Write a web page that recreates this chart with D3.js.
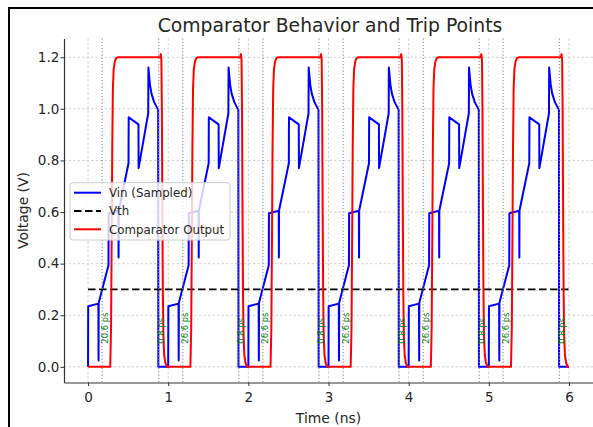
<!DOCTYPE html>
<html>
<head>
<meta charset="utf-8">
<script src="https://cdn.jsdelivr.net/npm/d3@7"></script>
<style>
  html, body { margin: 0; padding: 0; background: #fff; }
  svg { display: block; font-family: 'DejaVu Sans', sans-serif; }
</style>
</head>
<body>
<div id="chart-area"></div>
<script>
// DATA
// =================

// Vin (Sampled), time in ns
var vinT = [
    0.000, 0.002, 0.129, 0.131, 0.133, 0.255, 0.257, 0.379, 0.381, 0.383, 0.505, 0.507, 0.629, 0.631, 0.751, 0.753, 0.772, 0.792, 0.825, 0.875, 0.877,
    1.000, 1.002, 1.129, 1.131, 1.133, 1.255, 1.257, 1.379, 1.381, 1.383, 1.505, 1.507, 1.629, 1.631, 1.751, 1.753, 1.772, 1.792, 1.825, 1.875, 1.877,
    2.000, 2.002, 2.129, 2.131, 2.133, 2.255, 2.257, 2.379, 2.381, 2.383, 2.505, 2.507, 2.629, 2.631, 2.751, 2.753, 2.772, 2.792, 2.825, 2.875, 2.877,
    3.000, 3.002, 3.129, 3.131, 3.133, 3.255, 3.257, 3.379, 3.381, 3.383, 3.505, 3.507, 3.629, 3.631, 3.751, 3.753, 3.772, 3.792, 3.825, 3.875, 3.877,
    4.000, 4.002, 4.129, 4.131, 4.133, 4.255, 4.257, 4.379, 4.381, 4.383, 4.505, 4.507, 4.629, 4.631, 4.751, 4.753, 4.772, 4.792, 4.825, 4.875, 4.877,
    5.000, 5.002, 5.129, 5.131, 5.133, 5.255, 5.257, 5.379, 5.381, 5.383, 5.505, 5.507, 5.629, 5.631, 5.751, 5.753, 5.772, 5.792, 5.825, 5.875, 5.877,
    6.000
];
var vinV = [
    0.000, 0.235, 0.245, 0.025, 0.248, 0.394, 0.595, 0.605, 0.424, 0.606, 0.789, 0.967, 0.940, 0.770, 0.983, 1.160, 1.095, 1.058, 1.026, 0.996, 0.000,
    0.000, 0.235, 0.245, 0.025, 0.248, 0.394, 0.595, 0.605, 0.424, 0.606, 0.789, 0.967, 0.940, 0.770, 0.983, 1.160, 1.095, 1.058, 1.026, 0.996, 0.000,
    0.000, 0.235, 0.245, 0.025, 0.248, 0.394, 0.595, 0.605, 0.424, 0.606, 0.789, 0.967, 0.940, 0.770, 0.983, 1.160, 1.095, 1.058, 1.026, 0.996, 0.000,
    0.000, 0.235, 0.245, 0.025, 0.248, 0.394, 0.595, 0.605, 0.424, 0.606, 0.789, 0.967, 0.940, 0.770, 0.983, 1.160, 1.095, 1.058, 1.026, 0.996, 0.000,
    0.000, 0.235, 0.245, 0.025, 0.248, 0.394, 0.595, 0.605, 0.424, 0.606, 0.789, 0.967, 0.940, 0.770, 0.983, 1.160, 1.095, 1.058, 1.026, 0.996, 0.000,
    0.000, 0.235, 0.245, 0.025, 0.248, 0.394, 0.595, 0.605, 0.424, 0.606, 0.789, 0.967, 0.940, 0.770, 0.983, 1.160, 1.095, 1.058, 1.026, 0.996, 0.000,
    0.000
];

// Comparator Output
var outT = [
    0.000,
    0.277, 0.287, 0.295, 0.302, 0.310, 0.320, 0.335, 0.352, 0.375, 0.900, 0.907, 0.915, 0.921, 0.927, 0.933, 0.940, 0.950, 0.965, 0.985,
    1.277, 1.287, 1.295, 1.302, 1.310, 1.320, 1.335, 1.352, 1.375, 1.900, 1.907, 1.915, 1.921, 1.927, 1.933, 1.940, 1.950, 1.965, 1.985,
    2.277, 2.287, 2.295, 2.302, 2.310, 2.320, 2.335, 2.352, 2.375, 2.900, 2.907, 2.915, 2.921, 2.927, 2.933, 2.940, 2.950, 2.965, 2.985,
    3.277, 3.287, 3.295, 3.302, 3.310, 3.320, 3.335, 3.352, 3.375, 3.900, 3.907, 3.915, 3.921, 3.927, 3.933, 3.940, 3.950, 3.965, 3.985,
    4.277, 4.287, 4.295, 4.302, 4.310, 4.320, 4.335, 4.352, 4.375, 4.900, 4.907, 4.915, 4.921, 4.927, 4.933, 4.940, 4.950, 4.965, 4.985,
    5.277, 5.287, 5.295, 5.302, 5.310, 5.320, 5.335, 5.352, 5.375, 5.900, 5.907, 5.915, 5.921, 5.927, 5.933, 5.940, 5.950, 5.965, 5.985,
    6.000
];
var outV = [
    0.000,
    0.000, 0.150, 0.500, 0.850, 1.080, 1.155, 1.185, 1.197, 1.200, 1.200, 1.212, 1.190, 1.000, 0.620, 0.300, 0.120, 0.045, 0.015, 0.000,
    0.000, 0.150, 0.500, 0.850, 1.080, 1.155, 1.185, 1.197, 1.200, 1.200, 1.212, 1.190, 1.000, 0.620, 0.300, 0.120, 0.045, 0.015, 0.000,
    0.000, 0.150, 0.500, 0.850, 1.080, 1.155, 1.185, 1.197, 1.200, 1.200, 1.212, 1.190, 1.000, 0.620, 0.300, 0.120, 0.045, 0.015, 0.000,
    0.000, 0.150, 0.500, 0.850, 1.080, 1.155, 1.185, 1.197, 1.200, 1.200, 1.212, 1.190, 1.000, 0.620, 0.300, 0.120, 0.045, 0.015, 0.000,
    0.000, 0.150, 0.500, 0.850, 1.080, 1.155, 1.185, 1.197, 1.200, 1.200, 1.212, 1.190, 1.000, 0.620, 0.300, 0.120, 0.045, 0.015, 0.000,
    0.000, 0.150, 0.500, 0.850, 1.080, 1.155, 1.185, 1.197, 1.200, 1.200, 1.212, 1.190, 1.000, 0.620, 0.300, 0.120, 0.045, 0.015, 0.000,
    0.000
];

// threshold
var vth = 0.3;
var vthSpan = [0, 6];

// trip points (ns) and delay labels
var tripRise = [0.176, 1.182, 2.182, 3.182, 4.182, 5.178];
var tripFall = [0.882, 1.882, 2.881, 3.880, 4.880, 5.880];
var riseLabels = ['20.6 ps', '26.6 ps', '26.6 ps', '26.6 ps', '26.6 ps', '26.6 ps'];
var fallLabels = ['0.8 ps', '0.8 ps', '0.8 ps', '0.8 ps', '0.8 ps', '0.8 ps'];

// ticks
var xTicks = [0, 1, 2, 3, 4, 5, 6];
var yTicks = [0.0, 0.2, 0.4, 0.6, 0.8, 1.0, 1.2];

var legendNames = ['Vin (Sampled)', 'Vth', 'Comparator Output'];

// CANVAS + MARGINS
// =================
var W = 593, H = 427;
var margin = { left: 64, right: 0, top: 38.5, bottom: 44.5 };
var width = W - margin.left - margin.right;
var height = H - margin.top - margin.bottom;

var svg = d3.select('#chart-area')
    .append('svg')
        .attr('width', W)
        .attr('height', H);

// screenshot frame (top + left edge)
svg.append('line').attr('x1', 8).attr('x2', W).attr('y1', 8).attr('y2', 8)
    .attr('stroke', '#000').attr('stroke-width', 2);
svg.append('line').attr('x1', 9).attr('x2', 9).attr('y1', 7).attr('y2', H)
    .attr('stroke', '#000').attr('stroke-width', 2);

var g = svg.append('g')
    .attr('transform', 'translate(' + margin.left + ',' + margin.top + ')');

// SCALES
var x = d3.scaleLinear().domain([-0.3, 6.3]).range([0, width]);
var y = d3.scaleLinear().domain([-0.0606, 1.2726]).range([height, 0]);

// GRID
g.selectAll('.xgrid').data(xTicks).enter().append('line')
    .attr('class', 'xgrid')
    .attr('x1', d => x(d)).attr('x2', d => x(d))
    .attr('y1', 0).attr('y2', height)
    .attr('stroke', '#c8c8c8').attr('stroke-width', 0.8)
    .attr('stroke-dasharray', '2.5,2');
g.selectAll('.ygrid').data(yTicks).enter().append('line')
    .attr('class', 'ygrid')
    .attr('x1', 0).attr('x2', width)
    .attr('y1', d => y(d)).attr('y2', d => y(d))
    .attr('stroke', '#c8c8c8').attr('stroke-width', 0.8)
    .attr('stroke-dasharray', '2.5,2');

// LINES
var line = d3.line()
    .x(d => x(d[0]))
    .y(d => y(d[1]));

var vinData = vinT.map((t, i) => [t, vinV[i]]);
var outData = outT.map((t, i) => [t, outV[i]]);

g.append('path')
    .datum(vinData)
    .attr('d', line)
    .attr('fill', 'none')
    .attr('stroke', '#0000ff')
    .attr('stroke-width', 2)
    .attr('stroke-linejoin', 'round');

g.append('path')
    .datum(vthSpan.map(t => [t, vth]))
    .attr('d', line)
    .attr('fill', 'none')
    .attr('stroke', '#000')
    .attr('stroke-width', 1.8)
    .attr('stroke-dasharray', '7.5,3.5');

g.append('path')
    .datum(outData)
    .attr('d', line)
    .attr('fill', 'none')
    .attr('stroke', '#ff0000')
    .attr('stroke-width', 2)
    .attr('stroke-linejoin', 'round');

// TRIP LINES + LABELS
var trips = tripRise.map((t, i) => ({ t: t, label: riseLabels[i] }))
    .concat(tripFall.map((t, i) => ({ t: t, label: fallLabels[i] })));

g.selectAll('.trip').data(trips).enter().append('line')
    .attr('class', 'trip')
    .attr('x1', d => x(d.t)).attr('x2', d => x(d.t))
    .attr('y1', 0).attr('y2', height)
    .attr('stroke', '#8c8c8c').attr('stroke-width', 1.1)
    .attr('stroke-dasharray', '1.2,2');

g.selectAll('.trip-label').data(trips).enter().append('text')
    .attr('class', 'trip-label')
    .attr('transform', d => 'translate(' + (x(d.t) + 5.5) + ',' + y(0.09) + ') rotate(-90)')
    .attr('font-size', '8.4px')
    .attr('fill', '#008000')
    .text(d => d.label);

// AXES
var xAxisCall = d3.axisBottom(x)
    .tickValues(xTicks)
    .tickSize(3.5)
    .tickSizeOuter(0)
    .tickPadding(6)
    .tickFormat(d3.format('d'));
var xAxis = g.append('g')
    .attr('transform', 'translate(0,' + height + ')')
    .call(xAxisCall);

var yAxisCall = d3.axisLeft(y)
    .tickValues(yTicks)
    .tickSize(3.5)
    .tickSizeOuter(0)
    .tickPadding(1.2)
    .tickFormat(d3.format('.1f'));
var yAxis = g.append('g')
    .call(yAxisCall);

[xAxis, yAxis].forEach(a => {
    a.select('.domain').attr('stroke', '#333').attr('stroke-width', 1.2);
    a.selectAll('.tick line').attr('stroke', '#333').attr('stroke-width', 1);
    a.selectAll('.tick text')
        .attr('font-family', 'DejaVu Sans')
        .attr('font-size', '13.5px')
        .attr('fill', '#262626');
});

// LABELS
// =================
svg.append('text')
    .attr('x', margin.left + width / 2 + 1.5)
    .attr('y', 31.7)
    .attr('font-size', '18.8px')
    .attr('text-anchor', 'middle')
    .attr('fill', '#262626')
    .text('Comparator Behavior and Trip Points');

svg.append('text')
    .attr('x', margin.left + width / 2)
    .attr('y', 422.5)
    .attr('font-size', '13.9px')
    .attr('text-anchor', 'middle')
    .attr('fill', '#262626')
    .text('Time (ns)');

svg.append('text')
    .attr('transform', 'translate(28,' + (margin.top + height / 2) + ') rotate(-90)')
    .attr('font-size', '13.9px')
    .attr('text-anchor', 'middle')
    .attr('fill', '#262626')
    .text('Voltage (V)');

// LEGEND
// =================
var legend = svg.append('g')
    .attr('transform', 'translate(70,182.7)');

legend.append('rect')
    .attr('width', 160)
    .attr('height', 57.3)
    .attr('rx', 3)
    .attr('fill', '#fff')
    .attr('fill-opacity', 0.8)
    .attr('stroke', '#cccccc')
    .attr('stroke-width', 1);

var legendStyles = [
    { color: '#0000ff', dash: null, w: 2 },
    { color: '#000', dash: '7.5,3.5', w: 1.8 },
    { color: '#ff0000', dash: null, w: 2 }
];

var items = legend.selectAll('.item').data(legendNames).enter().append('g')
    .attr('class', 'item')
    .attr('transform', (d, i) => 'translate(0,' + (10 + i * 18.3) + ')');

items.append('line')
    .attr('x1', 4).attr('x2', 31)
    .attr('stroke', (d, i) => legendStyles[i].color)
    .attr('stroke-width', (d, i) => legendStyles[i].w)
    .attr('stroke-dasharray', (d, i) => legendStyles[i].dash);

items.append('text')
    .attr('x', 39)
    .attr('y', 4.3)
    .attr('font-size', '11.8px')
    .attr('fill', '#262626')
    .text(d => d);
</script>
</body>
</html>
